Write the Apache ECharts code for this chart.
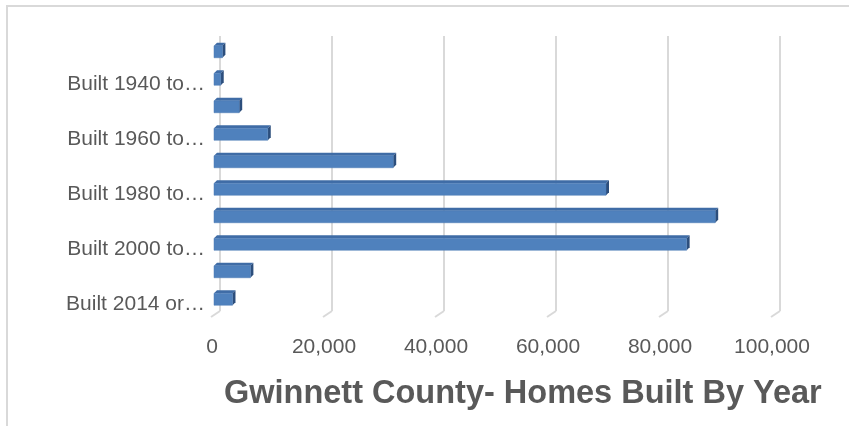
<!DOCTYPE html>
<html>
<head>
<meta charset="utf-8">
<script src="https://cdn.jsdelivr.net/npm/echarts@6/dist/echarts.min.js"></script>
<style>html,body{margin:0;padding:0;background:#fff}#chart{width:849px;height:426px}</style>
</head>
<body>
<div id="chart"></div>
<script>
// categories, bottom to top (ECharts category axis starts at the bottom)
const categories = [
  'Built 2014 or later',
  'Built 2010 to 2013',
  'Built 2000 to 2009',
  'Built 1990 to 1999',
  'Built 1980 to 1989',
  'Built 1970 to 1979',
  'Built 1960 to 1969',
  'Built 1950 to 1959',
  'Built 1940 to 1949',
  'Built 1939 or earlier'
];
const homesBuilt = [3300, 6500, 84400, 89500, 70000, 32000, 9600, 4500, 1200, 1500];
const xTicks = [0, 20000, 40000, 60000, 80000, 100000];
const chartTitle = 'Gwinnett County- Homes Built By Year';

const FONT = '"Liberation Sans", Arial, sans-serif';
const chart = echarts.init(document.getElementById('chart'), null, {renderer: 'canvas'});

const DX = -6, DY = 2, DEPTH = 3, FRONT_H = 12;

chart.setOption({
  animation: false,
  backgroundColor: '#ffffff',
  title: {
    text: chartTitle,
    left: 219,
    top: 373,
    textStyle: {fontFamily: FONT, fontSize: 32.5, fontWeight: 'bold', color: '#595959'}
  },
  graphic: [{
    type: 'rect',
    shape: {x: 7, y: 6, width: 900, height: 500},
    style: {fill: 'none', stroke: '#d9d9d9', lineWidth: 2},
    silent: true
  }],
  grid: {left: 220, right: 69, top: 36, bottom: 115, containLabel: false},
  xAxis: {
    type: 'value',
    min: xTicks[0],
    max: xTicks[xTicks.length - 1],
    interval: xTicks[1] - xTicks[0],
    axisLine: {show: false},
    axisTick: {show: false},
    splitLine: {show: true, lineStyle: {color: '#d9d9d9', width: 2}},
    axisLabel: {
      margin: 26,
      fontFamily: FONT,
      fontSize: 21,
      color: '#595959',
      padding: [0, 16, 0, 0],
      formatter: v => v.toLocaleString('en-US')
    }
  },
  yAxis: {
    type: 'category',
    data: categories,
    axisLine: {show: false},
    axisTick: {show: false},
    splitLine: {show: false},
    axisLabel: {
      interval: 1,
      margin: 15,
      formatter: s => '{l|' + (s.length > 13 ? s.slice(0, 13) + '…' : s) + '}',
      rich: {
        l: {fontFamily: FONT, fontSize: 21, color: '#595959', padding: [14, 0, 0, 0]}
      }
    }
  },
  series: [
    {
      type: 'custom',
      data: xTicks.map(v => [v, 0]),
      encode: {x: 0, y: 1},
      silent: true,
      z: 1,
      renderItem: function (params, api) {
        const p = api.coord([api.value(0), 0]);
        const bottom = params.coordSys.y + params.coordSys.height;
        return {
          type: 'line',
          shape: {x1: p[0], y1: bottom, x2: p[0] - 9, y2: bottom + 6},
          style: {stroke: '#d9d9d9', lineWidth: 2}
        };
      }
    },
    {
      type: 'custom',
      data: homesBuilt.map((v, i) => [v, i]),
      encode: {x: 0, y: 1},
      z: 3,
      renderItem: function (params, api) {
        const idx = api.value(1);
        const p0 = api.coord([0, idx]);
        const p1 = api.coord([api.value(0), idx]);
        const x0 = p0[0] + DX, x1 = p1[0] + DX;
        const yc = p0[1] + DY;
        const yt = yc - FRONT_H / 2, yb = yc + FRONT_H / 2;
        return {
          type: 'group',
          children: [
            {type: 'polygon', shape: {points: [[x0, yt], [x0 + DEPTH, yt - DEPTH], [x1 + DEPTH, yt - DEPTH], [x1, yt]]},
             style: {fill: '#3f6ca6'}},
            {type: 'polygon', shape: {points: [[x1, yt], [x1 + DEPTH, yt - DEPTH], [x1 + DEPTH, yb - DEPTH], [x1, yb]]},
             style: {fill: '#2c4e7c'}},
            {type: 'rect', shape: {x: x0, y: yt, width: x1 - x0, height: FRONT_H},
             style: {fill: '#4f81bd', stroke: '#4a7ab4', lineWidth: 0.5}}
          ]
        };
      }
    }
  ]
});
</script>
</body>
</html>
